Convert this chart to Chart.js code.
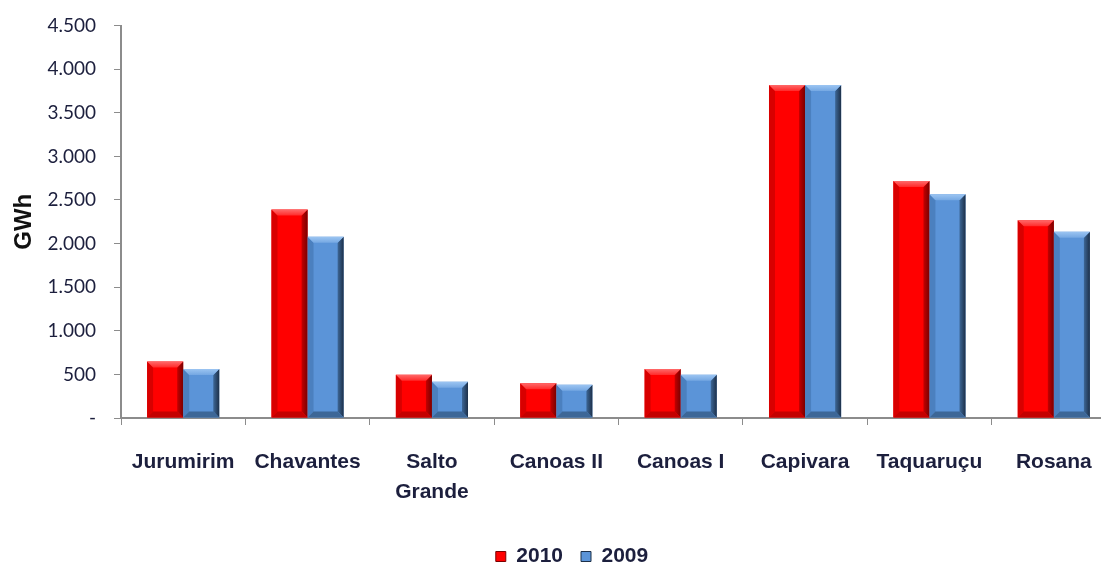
<!DOCTYPE html>
<html>
<head>
<meta charset="utf-8">
<script src="https://cdn.jsdelivr.net/npm/chart.js@4.4.1/dist/chart.umd.min.js"></script>
<style>
  html, body { margin: 0; padding: 0; background: #fff; overflow: hidden; }
  #wrap { width: 1118px; height: 569px; position: relative; }
</style>
</head>
<body>
<div id="wrap"><canvas id="geracao"></canvas></div>
<script>
/* Geração por usina (GWh), 2010 x 2009 */

var usinas = ['Jurumirim', 'Chavantes', ['Salto', 'Grande'], 'Canoas II', 'Canoas I', 'Capivara', 'Taquaruçu', 'Rosana'];
var anos = ['2010', '2009'];
var ger2010 = [648, 2390, 497, 398, 562, 3820, 2718, 2267];
var ger2009 = [563, 2078, 416, 382, 497, 3818, 2565, 2137];
var yTicks = [0, 500, 1000, 1500, 2000, 2500, 3000, 3500, 4000, 4500];

var txtColor = '#1c1f3d';
var sans = "'Liberation Sans', Arial, sans-serif";

var cores = {
  '2010': {base: '#ff0000', top: '#ff6a6a', side: '#7a0000', bottom: '#c40000', left: '#d80000'},
  '2009': {base: '#5b94d8', top: '#9cc5f2', side: '#1d3049', bottom: '#3d6797', left: '#4b80bf'}
};

function fmtMilhar(v) {
  if (v === 0) return '-';
  return String(v).replace(/\B(?=(\d{3})+(?!\d))/g, '.');
}

// bisel em cada barra: topo claro, lateral direita escura, base escura
var bevelPlugin = {
  id: 'bevel',
  afterDatasetsDraw: function(chart) {
    var ctx = chart.ctx;
    chart.data.datasets.forEach(function(ds, di) {
      var c = cores[ds.label];
      chart.getDatasetMeta(di).data.forEach(function(bar) {
        var w = bar.width, l = bar.x - w / 2, r = bar.x + w / 2, t = bar.y, b = bar.base;
        var e = 6;
        ctx.save();
        // lateral esquerda
        ctx.fillStyle = c.left;
        ctx.beginPath();
        ctx.moveTo(l, t); ctx.lineTo(l + e, t + e); ctx.lineTo(l + e, b - e); ctx.lineTo(l, b);
        ctx.closePath(); ctx.fill();
        // lateral direita
        var g = ctx.createLinearGradient(r - e, 0, r, 0);
        g.addColorStop(0, c.bottom); g.addColorStop(1, c.side);
        ctx.fillStyle = g;
        ctx.beginPath();
        ctx.moveTo(r, t); ctx.lineTo(r - e, t + e); ctx.lineTo(r - e, b - e); ctx.lineTo(r, b);
        ctx.closePath(); ctx.fill();
        // topo
        var gt = ctx.createLinearGradient(0, t, 0, t + e + 4);
        gt.addColorStop(0, c.top); gt.addColorStop(1, c.base);
        ctx.fillStyle = gt;
        ctx.beginPath();
        ctx.moveTo(l, t); ctx.lineTo(r, t); ctx.lineTo(r - e, t + e); ctx.lineTo(l + e, t + e);
        ctx.closePath(); ctx.fill();
        // base
        ctx.fillStyle = c.bottom;
        ctx.beginPath();
        ctx.moveTo(l, b); ctx.lineTo(r, b); ctx.lineTo(r - e, b - e); ctx.lineTo(l + e, b - e);
        ctx.closePath(); ctx.fill();
        ctx.restore();
      });
    });
  }
};

// legenda um pouco à direita do centro
var legendShift = {
  id: 'legendShift',
  afterLayout: function(chart) {
    if (!chart.legend) return;
    chart.legend.left += 14;
    chart.legend.right += 14;
  }
};

Chart.defaults.color = txtColor;

new Chart(document.getElementById('geracao'), {
  type: 'bar',
  data: {
    labels: usinas,
    datasets: [
      {label: anos[0], data: ger2010, backgroundColor: cores['2010'].base, borderWidth: 0},
      {label: anos[1], data: ger2009, backgroundColor: cores['2009'].base, borderWidth: 0}
    ]
  },
  options: {
    responsive: true, maintainAspectRatio: false, animation: false,
    layout: {padding: {top: 8, right: 2, left: 0, bottom: -8}},
    datasets: {bar: {categoryPercentage: 0.58, barPercentage: 1}},
    plugins: {
      tooltip: {enabled: false},
      legend: {
        position: 'bottom',
        labels: {
          boxWidth: 10, boxHeight: 10, padding: 18,
          color: txtColor,
          font: {family: sans, size: 21, weight: 'bold'},
          generateLabels: function(chart) {
            return chart.data.datasets.map(function(ds, i) {
              return {text: ds.label, fillStyle: cores[ds.label].base, strokeStyle: cores[ds.label].side,
                lineWidth: 1, datasetIndex: i, fontColor: txtColor};
            });
          }
        }
      }
    },
    scales: {
      x: {
        grid: {display: true, drawOnChartArea: false, tickLength: 7, color: '#8c8c8c', offset: true},
        border: {color: '#8c8c8c', width: 2},
        ticks: {padding: 23, color: txtColor, font: {family: sans, size: 21, weight: 'bold', lineHeight: 1.4},
          maxRotation: 0, autoSkip: false},
        afterFit: function(s) { s.height = 110; }
      },
      y: {
        min: 0, max: 4500,
        afterBuildTicks: function(s) { s.ticks = yTicks.map(function(v) { return {value: v}; }); },
        grid: {display: true, drawOnChartArea: false, tickLength: 7, color: '#8c8c8c'},
        border: {color: '#8c8c8c', width: 2},
        ticks: {padding: 18, color: txtColor, font: {family: "'Lato', 'Open Sans', sans-serif", size: 19, lineHeight: 0.8},
          callback: function(v) { return fmtMilhar(v); }},
        title: {display: true, text: 'GWh', color: '#111', padding: {top: 10, bottom: 0},
          font: {family: sans, size: 24, weight: 'bold'}},
        afterFit: function(s) { s.width = 121; }
      }
    }
  },
  plugins: [bevelPlugin, legendShift]
});
</script>
</body>
</html>
